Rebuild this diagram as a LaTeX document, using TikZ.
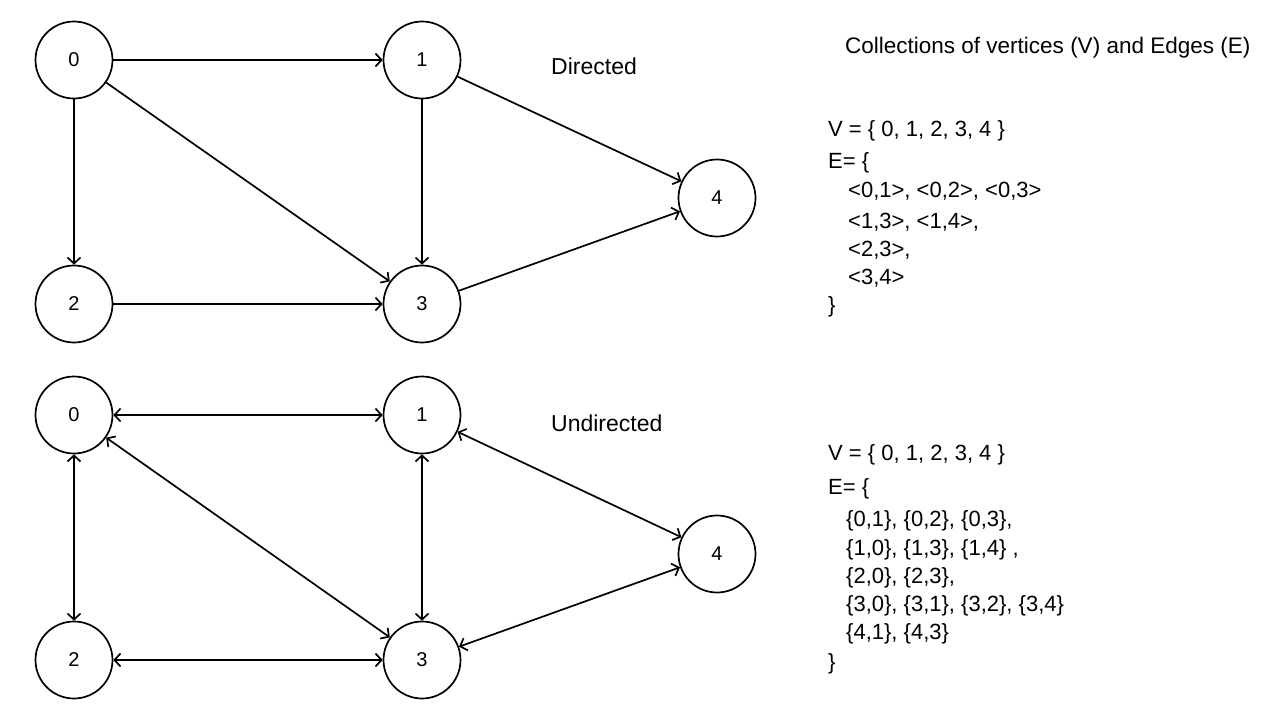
\documentclass[tikz,border=0pt]{standalone}
\usepackage{fontspec}
\setmainfont{Liberation Sans}
\usetikzlibrary{arrows.meta}
\begin{document}
\begin{tikzpicture}[x=1pt,y=-1pt,
  vtx/.style={circle,draw,line width=1.7pt,minimum size=77pt,inner sep=0pt,font=\fontsize{20}{24}\selectfont},
  edge/.style={line width=1.7pt,-{Straight Barb[length=6pt,width=13pt,line width=1.7pt]}},
  bedge/.style={line width=1.7pt,{Straight Barb[length=6pt,width=13pt,line width=1.7pt]}-{Straight Barb[length=6pt,width=13pt,line width=1.7pt]}},
  txt/.style={anchor=west,inner sep=0pt,font=\fontsize{22}{24}\selectfont},
  head/.style={anchor=west,inner sep=0pt,font=\fontsize{22.5}{26}\selectfont}]
\useasboundingbox (0,0) rectangle (1280,720);
% directed graph
\node[vtx] (a0) at (74,60) {0};
\node[vtx] (a1) at (422,60) {1};
\node[vtx] (a2) at (74,304) {2};
\node[vtx] (a3) at (422,304) {3};
\node[vtx] (a4) at (717,198) {4};
\draw[edge] (a0) -- (a1);
\draw[edge] (a0) -- (a2);
\draw[edge] (a0) -- (a3);
\draw[edge] (a1) -- (a3);
\draw[edge] (a1) -- (a4);
\draw[edge] (a2) -- (a3);
\draw[edge] (a3) -- (a4);
\node[head,font=\fontsize{23}{26}\selectfont] (dir) at (551,66) {Directed};
% undirected graph
\node[vtx] (b0) at (74,415) {0};
\node[vtx] (b1) at (422,415) {1};
\node[vtx] (b2) at (74,660) {2};
\node[vtx] (b3) at (422,660) {3};
\node[vtx] (b4) at (717,554) {4};
\draw[bedge] (b0) -- (b1);
\draw[bedge] (b0) -- (b2);
\draw[bedge] (b0) -- (b3);
\draw[bedge] (b1) -- (b3);
\draw[bedge] (b1) -- (b4);
\draw[bedge] (b2) -- (b3);
\draw[bedge] (b3) -- (b4);
\node[head,font=\fontsize{23}{26}\selectfont] (undir) at (551,423) {Undirected};
% text
\node[head] (title) at (845,48) {Collections of vertices (V) and Edges (E)};
\node[txt] (v1) at (828,131) {V = \{ 0, 1, 2, 3, 4 \}};
\node[txt] (e1) at (828,163) {E= \{};
\node[txt] (e1a) at (848,191) {<0,1>, <0,2>, <0,3>};
\node[txt] (e1b) at (848,222) {<1,3>, <1,4>,};
\node[txt] (e1c) at (848,250) {<2,3>,};
\node[txt] (e1d) at (848,278) {<3,4>};
\node[txt] (e1e) at (828,307) {\}};
\node[txt] (v2) at (828,455) {V = \{ 0, 1, 2, 3, 4 \}};
\node[txt] (e2) at (828,489) {E= \{};
\node[txt] (e2a) at (846,521) {\{0,1\}, \{0,2\}, \{0,3\},};
\node[txt] (e2b) at (846,550) {\{1,0\}, \{1,3\}, \{1,4\} ,};
\node[txt] (e2c) at (846,578) {\{2,0\}, \{2,3\},};
\node[txt] (e2d) at (846,606) {\{3,0\}, \{3,1\}, \{3,2\}, \{3,4\}};
\node[txt] (e2e) at (846,634) {\{4,1\}, \{4,3\}};
\node[txt] (e2f) at (828,664) {\}};
\end{tikzpicture}
\end{document}
